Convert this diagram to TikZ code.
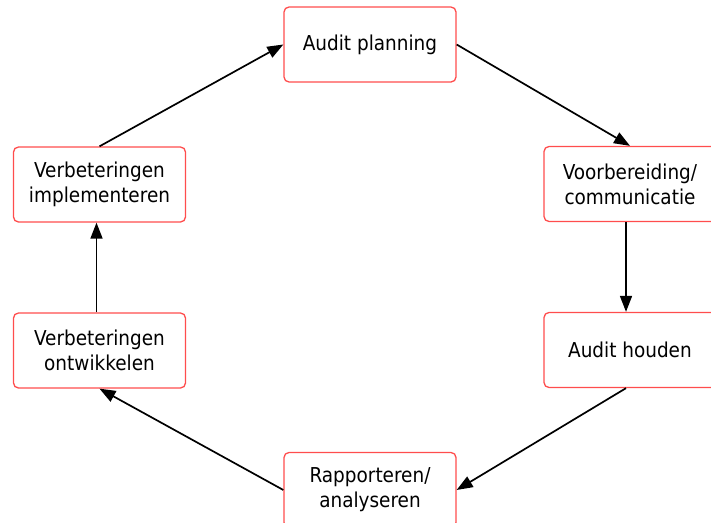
\documentclass[tikz,border=0pt]{standalone}
\usepackage{fontspec}
\setmainfont{DejaVu Sans Condensed}
\usepackage{tikz}
\usetikzlibrary{positioning, arrows.meta}
\definecolor{BoxRed}{RGB}{255,77,77}

\tikzset{
  stepbox/.style={rectangle, rounded corners=5pt, draw=BoxRed, line width=1.3pt, fill=white,
    minimum width=172pt, minimum height=75pt, align=center, inner sep=0pt,
    font=\fontsize{20.5pt}{25pt}\selectfont},
  flow/.style={-{Triangle[length=16pt,width=12pt]}, line width=1.7pt, black}
}

\begin{document}
\begin{tikzpicture}[x=1pt, y=-1pt]
                \useasboundingbox (0,0) rectangle (711,522);
                % Stappen
                \node[stepbox] (AP) at (370,44.5) {Audit planning};
                \node[stepbox] (VC) at (630,184) {Voorbereiding/\\communicatie};
                \node[stepbox] (AH) at (630,350) {Audit houden};
                \node[stepbox] (RA) at (370,490) {Rapporteren/\\analyseren};
                \node[stepbox] (VO) at (99.5,350.5) {Verbeteringen\\ontwikkelen};
                \node[stepbox] (VI) at (99.5,184.5) {Verbeteringen\\implementeren};

                % Pijlen
                \draw[flow] (AP.east) -- (VC.north);
                \draw[flow] ([xshift=-4pt]VC.south) -- ([xshift=-4pt]AH.north);
                \draw[flow] ([xshift=-4pt]AH.south) -- (RA.east);
                \draw[flow] (RA.west) -- (VO.south);
                \draw[flow] ([xshift=-3pt]VO.north) -- ([xshift=-3pt]VI.south);
                \draw[flow] (VI.north) -- (AP.west);
\end{tikzpicture}
\end{document}
